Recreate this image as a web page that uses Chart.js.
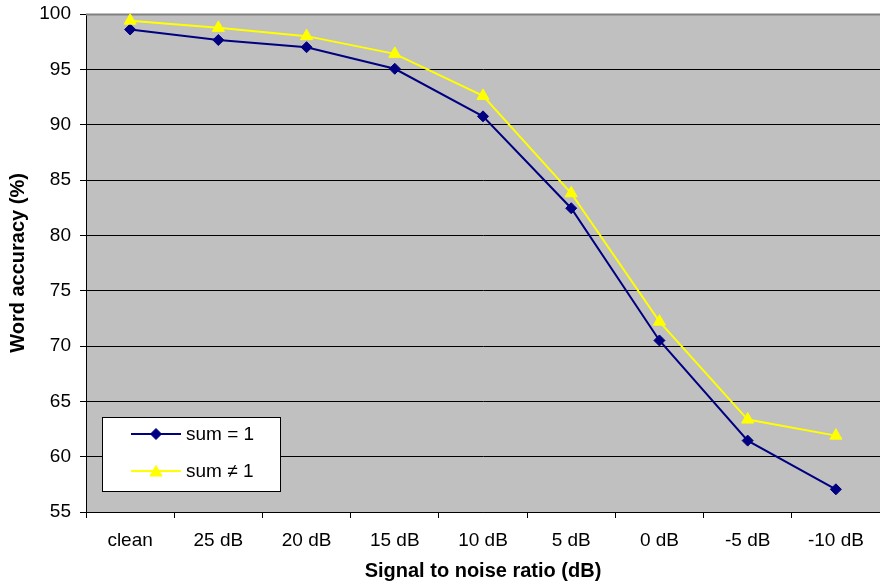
<!DOCTYPE html>
<html>
<head>
<meta charset="utf-8">
<script src="https://cdn.jsdelivr.net/npm/chart.js@4/dist/chart.umd.min.js"></script>
<style>
  html, body { margin: 0; padding: 0; background: #ffffff; }
  #wrap { width: 880px; height: 586px; position: relative; }
</style>
</head>
<body>
<div id="wrap"><canvas id="c" width="880" height="586"></canvas></div>
<script>
// Signal-to-noise conditions on the x axis
const categories = ['clean', '25 dB', '20 dB', '15 dB', '10 dB', '5 dB', '0 dB', '-5 dB', '-10 dB'];
// Word accuracy (%) per condition
const sumEqualOne = [98.6, 97.65, 97.0, 95.05, 90.75, 82.45, 70.5, 61.45, 57.05];
const sumNotOne   = [99.4, 98.75, 98.0, 96.4, 92.6, 83.8, 72.2, 63.35, 61.9];
const seriesNames = ['sum = 1', 'sum \u2260 1'];
const yMin = 55, yMax = 100, yStep = 5;

const FONT = '"Liberation Sans", Arial, Helvetica, sans-serif';

function diamond(ctx, x, y, r) {
  ctx.beginPath();
  ctx.moveTo(x, y - r); ctx.lineTo(x + r, y); ctx.lineTo(x, y + r); ctx.lineTo(x - r, y);
  ctx.closePath();
}
function triangle(ctx, x, y, r) {
  ctx.beginPath();
  ctx.moveTo(x, y - r);
  ctx.lineTo(x + r * Math.sin(2 * Math.PI / 3), y - r * Math.cos(2 * Math.PI / 3));
  ctx.lineTo(x + r * Math.sin(4 * Math.PI / 3), y - r * Math.cos(4 * Math.PI / 3));
  ctx.closePath();
}

// Grey plot area plus its top border
const plotArea = {
  id: 'plotArea',
  beforeDraw(chart) {
    const { ctx, chartArea: a } = chart;
    ctx.save();
    ctx.fillStyle = '#ffffff';
    ctx.fillRect(0, 0, chart.width, chart.height);
    ctx.fillStyle = '#c0c0c0';
    ctx.fillRect(a.left, a.top, a.right - a.left, a.bottom - a.top);
    ctx.restore();
  },
  beforeDatasetsDraw(chart) {
    const { ctx, chartArea: a } = chart;
    ctx.save();
    ctx.strokeStyle = '#808080';
    ctx.lineWidth = 2;
    ctx.beginPath();
    ctx.moveTo(a.left, a.top + 0.5);
    ctx.lineTo(a.right, a.top + 0.5);
    ctx.stroke();
    ctx.restore();
  }
};

// Boxed legend in the lower-left corner of the plot
const boxLegend = {
  id: 'boxLegend',
  afterDatasetsDraw(chart) {
    const { ctx } = chart;
    const box = { x: 102, y: 417, w: 178, h: 74 };
    ctx.save();
    ctx.fillStyle = '#ffffff';
    ctx.fillRect(box.x, box.y, box.w, box.h);
    ctx.strokeStyle = '#000000';
    ctx.lineWidth = 1;
    ctx.strokeRect(box.x + 0.5, box.y + 0.5, box.w, box.h);
    const rows = [434, 471];
    chart.data.datasets.forEach((ds, i) => {
      const y = rows[i];
      ctx.strokeStyle = ds.borderColor;
      ctx.lineWidth = 2;
      ctx.beginPath();
      ctx.moveTo(131, y); ctx.lineTo(181, y);
      ctx.stroke();
      ctx.fillStyle = ds.pointBackgroundColor;
      ctx.strokeStyle = ds.pointBorderColor;
      ctx.lineWidth = 1;
      if (ds.pointStyle === 'rectRot') diamond(ctx, 156, y, 5.5);
      else triangle(ctx, 156, y + 1.5, 7);
      ctx.fill(); ctx.stroke();
      ctx.fillStyle = '#000000';
      ctx.font = '19px ' + FONT;
      ctx.textBaseline = 'middle';
      ctx.textAlign = 'left';
      ctx.fillText(ds.label, 186, y + 1);
    });
    ctx.restore();
  }
};

new Chart(document.getElementById('c'), {
  type: 'line',
  data: {
    labels: categories,
    datasets: [
      {
        label: seriesNames[0],
        data: sumEqualOne,
        borderColor: '#000080',
        backgroundColor: '#000080',
        borderWidth: 2,
        pointStyle: 'rectRot',
        pointRadius: 5.5,
        pointBackgroundColor: '#000080',
        pointBorderColor: '#000080',
        pointBorderWidth: 1,
        tension: 0,
        clip: false,
        order: 1
      },
      {
        label: seriesNames[1],
        data: sumNotOne,
        borderColor: '#ffff00',
        backgroundColor: '#ffff00',
        borderWidth: 2,
        pointStyle: 'triangle',
        pointRadius: 7,
        pointBackgroundColor: '#ffff00',
        pointBorderColor: '#ffff00',
        pointBorderWidth: 1,
        tension: 0,
        clip: false,
        order: 0
      }
    ]
  },
  options: {
    responsive: false,
    animation: false,
    devicePixelRatio: 1,
    layout: { autoPadding: false, padding: { top: 14, right: 0, bottom: 0, left: 0 } },
    plugins: {
      legend: { display: false },
      tooltip: { enabled: false }
    },
    scales: {
      x: {
        type: 'category',
        offset: true,
        afterFit(scale) {
          scale.height = 74;
          scale.paddingLeft = 0;
          scale.paddingRight = 0;
        },
        grid: {
          offset: true,
          drawOnChartArea: false,
          drawTicks: true,
          tickLength: 6,
          color: '#000000',
          lineWidth: 1
        },
        border: { display: true, color: '#000000', width: 1 },
        ticks: {
          color: '#000000',
          font: { family: FONT, size: 19 },
          padding: 11,
          maxRotation: 0,
          autoSkip: false
        },
        title: {
          display: true,
          text: 'Signal to noise ratio (dB)',
          color: '#000000',
          font: { family: FONT, size: 20, weight: 'bold' },
          padding: { top: 0, bottom: 3 }
        }
      },
      y: {
        min: yMin,
        max: yMax,
        afterFit(scale) {
          scale.width = 86;
          scale.paddingTop = 0;
          scale.paddingBottom = 0;
        },
        grid: {
          drawTicks: true,
          tickLength: 6,
          color: '#000000',
          lineWidth: 1
        },
        border: { display: true, color: '#000000', width: 1 },
        ticks: {
          stepSize: yStep,
          color: '#000000',
          font: { family: FONT, size: 19 },
          padding: 9
        },
        title: {
          display: true,
          text: 'Word accuracy (%)',
          color: '#000000',
          font: { family: FONT, size: 20, weight: 'bold' },
          padding: { top: 6, bottom: 0 }
        }
      }
    }
  },
  plugins: [plotArea, boxLegend]
});
</script>
</body>
</html>
